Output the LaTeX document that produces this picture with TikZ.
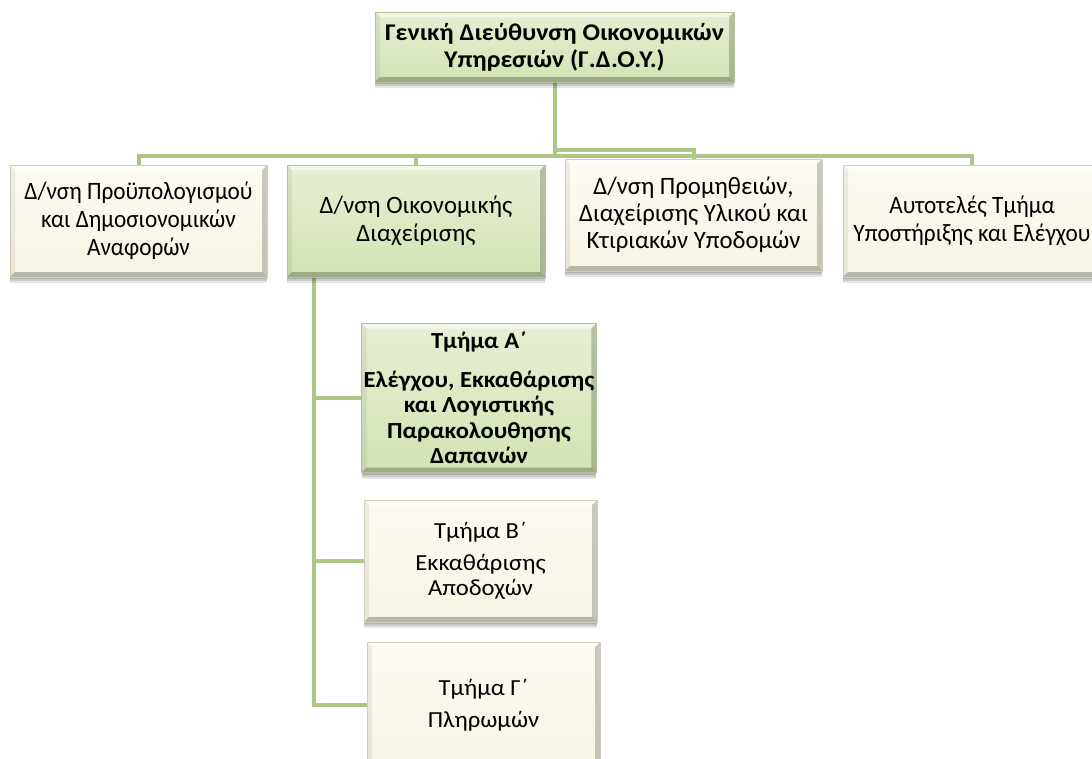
\documentclass[tikz,border=0pt]{standalone}
\usepackage{fontspec}
\setmainfont{Carlito}
\newfontfamily\ftop[FakeStretch=1.08]{Carlito}
\newfontfamily\fnarrow[FakeStretch=0.93]{Carlito}
\newfontfamily\fnorm[FakeStretch=0.99]{Carlito}
\newfontfamily\fwide[FakeStretch=1.07]{Carlito}
\usetikzlibrary{shadows}
\definecolor{linegreen}{HTML}{ABC685}
\definecolor{gtop}{HTML}{E6EFD2}
\definecolor{gbot}{HTML}{D3E3B4}
\definecolor{gedge}{HTML}{B3C399}
\definecolor{ctop}{HTML}{FDFBF3}
\definecolor{cbot}{HTML}{F7F4E3}
\definecolor{cedge}{HTML}{D2CEBC}
\tikzset{
  boxbase/.style={rectangle, align=center, inner sep=2pt, line width=0.6pt,
    drop shadow={shadow xshift=0pt, shadow yshift=-2pt, opacity=0.12, fill=black},
    drop shadow={shadow xshift=0pt, shadow yshift=-4pt, opacity=0.12, fill=black},
    drop shadow={shadow xshift=0pt, shadow yshift=-6pt, opacity=0.10, fill=black},
    path picture={
      \coordinate (sw) at (path picture bounding box.south west);
      \coordinate (ne) at (path picture bounding box.north east);
      \coordinate (nw) at (path picture bounding box.north west);
      \coordinate (se) at (path picture bounding box.south east);
      % note y axis points down: "south" has larger y
      \fill[white, opacity=0.55] (nw) -- (ne) -- ([xshift=-5pt,yshift=-5pt]ne) -- ([xshift=5pt,yshift=-5pt]nw) -- cycle;
      \fill[black, opacity=0.06] (nw) -- (sw) -- ([xshift=5pt,yshift=5pt]sw) -- ([xshift=5pt,yshift=-5pt]nw) -- cycle;
      \fill[black, opacity=0.20] (ne) -- (se) -- ([xshift=-5pt,yshift=5pt]se) -- ([xshift=-5pt,yshift=-5pt]ne) -- cycle;
      \fill[black, opacity=0.25] (sw) -- (se) -- ([xshift=-5pt,yshift=5pt]se) -- ([xshift=5pt,yshift=5pt]sw) -- cycle;
    }},
  greenbox/.style={boxbase, draw=gedge, top color=gtop, bottom color=gbot},
  creambox/.style={boxbase, draw=cedge, top color=ctop, bottom color=cbot},
  conn/.style={draw=linegreen, line width=4pt},
}
\begin{document}
\begin{tikzpicture}[x=1pt,y=-1pt]
\useasboundingbox (0,0) rectangle (1092,758);
\clip (0,0) rectangle (1092,758);
\fill[white] (0,0) rectangle (1092,758);
\coordinate (busA) at (0,156);
\coordinate (busB) at (0,150);
\coordinate (stem) at (314,0);
% connectors first, under the boxes
\node[minimum width=359pt, minimum height=70pt] (topc) at (554.5,47) {};
\node[minimum width=257pt, minimum height=112pt] (c1) at (138.5,221) {};
\node[minimum width=258pt, minimum height=112pt] (c2) at (416,221) {};
\node[minimum width=257pt, minimum height=112pt] (c3) at (693.5,215) {};
\node[minimum width=258pt, minimum height=112pt] (c4) at (972,221) {};
\node[minimum width=232pt, minimum height=149pt] (ca) at (479,398) {};
\node[minimum width=233pt, minimum height=122pt] (cb) at (480.5,561) {};
\node[minimum width=233pt, minimum height=126pt] (cc) at (483.5,705) {};
\draw[conn] (topc.south) -- (topc.south |- busA) -| (c1.north);
\draw[conn] (topc.south |- busA) -| (c2.north);
\draw[conn] (topc.south) -- (topc.south |- busB) -| (c3.north);
\draw[conn] (topc.south |- busA) -| (c4.north);
\draw[conn] (c2.south -| stem) |- (cc.west);
\draw[conn] (c2.south -| stem) |- (cb.west);
\draw[conn] (c2.south -| stem) |- (ca.west);
% boxes
\node[greenbox, font=\ftop\fontsize{24}{27}\selectfont\bfseries, minimum width=359pt, minimum height=70pt] (top) at (topc)
  {Γενική Διεύθυνση Οικονομικών\\Υπηρεσιών (Γ.Δ.Ο.Υ.)};
\node[creambox, font=\fnarrow\fontsize{25}{28}\selectfont, minimum width=257pt, minimum height=112pt] (b1) at (c1)
  {Δ/νση Προϋπολογισμού\\και Δημοσιονομικών\\Αναφορών};
\node[greenbox, font=\fnorm\fontsize{25}{28}\selectfont, minimum width=258pt, minimum height=112pt] (b2) at (c2)
  {Δ/νση Οικονομικής\\Διαχείρισης};
\node[creambox, font=\fnorm\fontsize{25}{27}\selectfont, minimum width=257pt, minimum height=112pt] (b3) at (c3)
  {Δ/νση Προμηθειών,\\Διαχείρισης Υλικού και\\Κτιριακών Υποδομών};
\node[creambox, font=\fnarrow\fontsize{25}{28}\selectfont, minimum width=258pt, minimum height=112pt] (b4) at (c4)
  {Αυτοτελές Τμήμα\\Υποστήριξης και Ελέγχου};
\node[greenbox, font=\fwide\fontsize{23}{25.5}\selectfont\bfseries, minimum width=232pt, minimum height=149pt] (ta) at (ca)
  {Τμήμα Α΄\\[13pt]Ελέγχου, Εκκαθάρισης\\και Λογιστικής\\Παρακολουθησης\\Δαπανών};
\node[creambox, font=\fwide\fontsize{23}{25}\selectfont, minimum width=233pt, minimum height=122pt] (tb) at (cb)
  {Τμήμα Β΄\\[7pt]Εκκαθάρισης\\Αποδοχών};
\node[creambox, font=\fwide\fontsize{23}{25}\selectfont, minimum width=233pt, minimum height=126pt] (tc) at (cc)
  {Τμήμα Γ΄\\[7pt]Πληρωμών};
\end{tikzpicture}
\end{document}
